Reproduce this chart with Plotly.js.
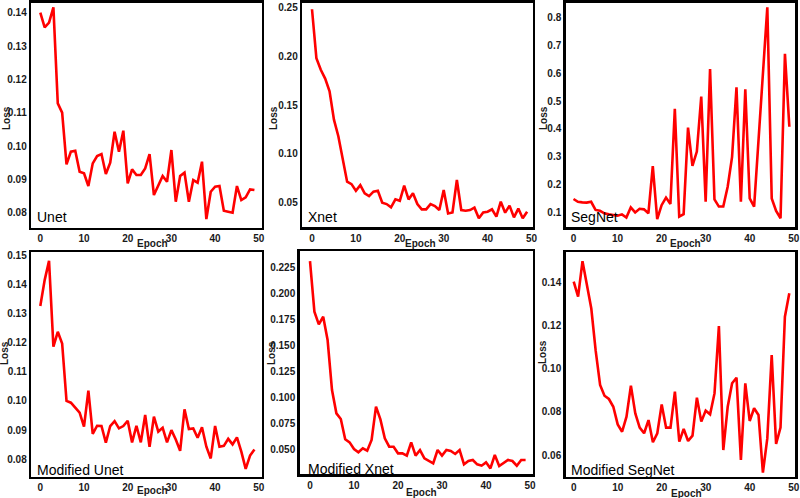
<!DOCTYPE html>
<html><head><meta charset="utf-8">
<script src="https://cdn.plot.ly/plotly-3.0.1.min.js"></script>
<style>html,body{margin:0;padding:0;background:#fff}#chart{width:800px;height:498px}</style>
</head><body><div id="chart"></div>
<script>
const epochs = [0,1,2,3,4,5,6,7,8,9,10,11,12,13,14,15,16,17,18,19,20,21,22,23,24,25,26,27,28,29,30,31,32,33,34,35,36,37,38,39,40,41,42,43,44,45,46,47,48,49];
const epochTicks = [0,10,20,30,40,50];

const unetLoss = [0.1400,0.1356,0.1370,0.1416,0.1128,0.1100,0.0945,0.0983,0.0986,0.0923,
  0.0918,0.0880,0.0948,0.0970,0.0976,0.0916,0.0950,0.1043,0.0983,0.1046,
  0.0888,0.0930,0.0913,0.0913,0.0933,0.0976,0.0853,0.0883,0.0910,0.0893,
  0.0988,0.0833,0.0910,0.0920,0.0833,0.0898,0.0890,0.0953,0.0781,0.0863,
  0.0878,0.0880,0.0806,0.0803,0.0800,0.0880,0.0838,0.0846,0.0870,0.0868];
const xnetLoss = [0.248,0.198,0.186,0.177,0.164,0.135,0.118,0.095,0.0715,0.069,
  0.0623,0.068,0.0596,0.0568,0.0613,0.0623,0.050,0.0486,0.0452,0.0534,
  0.052,0.0674,0.0534,0.0596,0.0486,0.0432,0.0432,0.0486,0.0466,0.0425,
  0.063,0.039,0.040,0.0732,0.0425,0.0418,0.0425,0.0449,0.034,0.040,
  0.0408,0.0432,0.0357,0.051,0.0398,0.047,0.035,0.044,0.034,0.0408];
const segnetLoss = [0.149,0.139,0.137,0.136,0.139,0.110,0.107,0.098,0.094,0.092,
  0.089,0.094,0.083,0.119,0.101,0.114,0.112,0.098,0.267,0.077,
  0.127,0.154,0.131,0.472,0.086,0.095,0.405,0.268,0.319,0.516,
  0.139,0.615,0.148,0.122,0.122,0.193,0.300,0.549,0.139,0.542,
  0.151,0.122,0.360,0.590,0.836,0.151,0.106,0.080,0.669,0.408];
const modUnetLoss = [0.1325,0.1414,0.148,0.1186,0.1237,0.1197,0.100,0.0994,0.0977,0.096,
  0.0912,0.1035,0.0887,0.0915,0.0914,0.0857,0.0914,0.0931,0.0906,0.0914,
  0.0932,0.0858,0.0915,0.0858,0.0952,0.0843,0.0946,0.0895,0.0908,0.0858,
  0.090,0.0868,0.0829,0.0971,0.0904,0.0906,0.0874,0.091,0.0843,0.0803,
  0.0914,0.0843,0.0846,0.087,0.0851,0.0875,0.0826,0.0767,0.0813,0.0834];
const modXnetLoss = [0.2314,0.1826,0.1703,0.1777,0.1552,0.107,0.0845,0.079,0.0594,0.0565,
  0.0501,0.0469,0.0507,0.0485,0.0588,0.0909,0.0787,0.0604,0.0523,0.0523,
  0.0459,0.0459,0.0437,0.0565,0.0437,0.0491,0.0411,0.0388,0.0363,0.0491,
  0.0437,0.0491,0.0482,0.0453,0.0491,0.0353,0.0385,0.0395,0.0353,0.034,
  0.0372,0.0314,0.0443,0.0337,0.0369,0.0395,0.0385,0.034,0.0395,0.0395];
const modSegnetLoss = [0.1405,0.1335,0.150,0.1397,0.128,0.1083,0.0925,0.0875,0.086,0.0824,
  0.0742,0.0708,0.0778,0.0922,0.0793,0.0727,0.0701,0.0762,0.0659,0.0701,
  0.0835,0.0727,0.0727,0.0894,0.0662,0.0721,0.0665,0.069,0.0866,0.0755,
  0.0806,0.0789,0.0886,0.1199,0.0623,0.0824,0.0933,0.0959,0.0577,0.0933,
  0.0758,0.0817,0.0786,0.0518,0.0677,0.1064,0.0651,0.0727,0.1242,0.1351];

const unetTicks = [0.08,0.09,0.10,0.11,0.12,0.13,0.14];
const xnetTicks = [0.05,0.10,0.15,0.20,0.25];
const segnetTicks = [0.1,0.2,0.3,0.4,0.5,0.6,0.7,0.8];
const modUnetTicks = [0.08,0.09,0.10,0.11,0.12,0.13,0.14,0.15];
const modXnetTicks = [0.025,0.050,0.075,0.100,0.125,0.150,0.175,0.200,0.225];
const modSegnetTicks = [0.06,0.08,0.10,0.12,0.14];

const modelNames = ['Unet','Xnet','SegNet','Modified Unet','Modified Xnet','Modified SegNet'];
const lossSeries = [unetLoss,xnetLoss,segnetLoss,modUnetLoss,modXnetLoss,modSegnetLoss];
const tickSets = [unetTicks,xnetTicks,segnetTicks,modUnetTicks,modXnetTicks,modSegnetTicks];
const tickFormats = ['.2f','.2f','.1f','.2f','.3f','.2f'];

// pixel geometry (styles)
const W=800,H=498,LW=2.5;
const geo = [
 {frame:[30,263,1.5,229], x0:40.3, ppe:4.37, yc:[0.14,12.7,0.08,212.7], label:[35,217], loss:[6,118], epoch:[152,243]},
 {frame:[301,534,1.5,228.5], x0:312, ppe:4.39, yc:[0.25,7.3,0.05,202.7], label:[306,217], loss:[273,118], epoch:[420,243]},
 {frame:[564.5,796.5,1.5,228.5], x0:573.5, ppe:4.405, yc:[0.8,17.3,0.1,212.7], label:[569.3,217], loss:[543,118], epoch:[685,243]},
 {frame:[30,263,251,478], x0:40.3, ppe:4.37, yc:[0.15,255,0.08,459.3], label:[35,469.5], loss:[4,353], epoch:[152,490.7]},
 {frame:[298.5,534,250,475.5], x0:310, ppe:4.40, yc:[0.225,267.7,0.025,475], label:[305.7,469], loss:[271,353], epoch:[421.7,492]},
 {frame:[564.5,796.5,251,478], x0:573.7, ppe:4.40, yc:[0.14,282.7,0.06,455], label:[569.3,469.5], loss:[542,352], epoch:[686,493]}
];

const tickFont = {family:'Liberation Sans, Arial, sans-serif', size:10, color:'#1a1a1a', weight:'bold'};
const traces=[], annotations=[];
const layout = {width:W,height:H,margin:{l:0,r:0,t:0,b:0},paper_bgcolor:'#fff',plot_bgcolor:'#fff',showlegend:false,annotations:annotations};

geo.forEach((g,i)=>{
  const n = i===0?'':String(i+1);
  const [L,R,T,B] = g.frame;
  const l=L+LW/2, r=R-LW/2, t=T+LW/2, b=B-LW/2;
  const k = (g.yc[3]-g.yc[1])/(g.yc[0]-g.yc[2]);
  const val = p => g.yc[0] - (p-g.yc[1])/k;
  traces.push({x:epochs,y:lossSeries[i],type:'scatter',mode:'lines',xaxis:'x'+n,yaxis:'y'+n,
    line:{color:'#ff0000',width:2.6},hoverinfo:'skip'});
  const common = {showline:true,mirror:true,linecolor:'#000',linewidth:LW,showgrid:false,zeroline:false,ticks:'',tickfont:tickFont,fixedrange:true};
  layout['xaxis'+n] = Object.assign({},common,{domain:[l/W,r/W],range:[(l-g.x0)/g.ppe,(r-g.x0)/g.ppe],
    tickmode:'array',tickvals:epochTicks,anchor:'y'+n});
  layout['yaxis'+n] = Object.assign({},common,{domain:[1-b/H,1-t/H],range:[val(b),val(t)],
    tickmode:'array',tickvals:tickSets[i],tickformat:tickFormats[i],anchor:'x'+n});
  annotations.push({xref:'paper',yref:'paper',x:g.label[0]/W,y:1-g.label[1]/H,xanchor:'left',yanchor:'middle',
    text:modelNames[i],showarrow:false,font:{family:'Liberation Sans, Arial, sans-serif',size:14,color:'#000'}});
  annotations.push({xref:'paper',yref:'paper',x:g.loss[0]/W,y:1-g.loss[1]/H,xanchor:'center',yanchor:'middle',
    text:'Loss',textangle:-90,showarrow:false,font:{family:'Liberation Sans, Arial, sans-serif',size:10,color:'#1a1a1a',weight:'bold'}});
  annotations.push({xref:'paper',yref:'paper',x:g.epoch[0]/W,y:1-g.epoch[1]/H,xanchor:'center',yanchor:'middle',
    text:'Epoch',showarrow:false,font:{family:'Liberation Sans, Arial, sans-serif',size:10,color:'#1a1a1a',weight:'bold'}});
});

Plotly.newPlot('chart',traces,layout,{displayModeBar:false,staticPlot:true});
</script>
</body></html>
